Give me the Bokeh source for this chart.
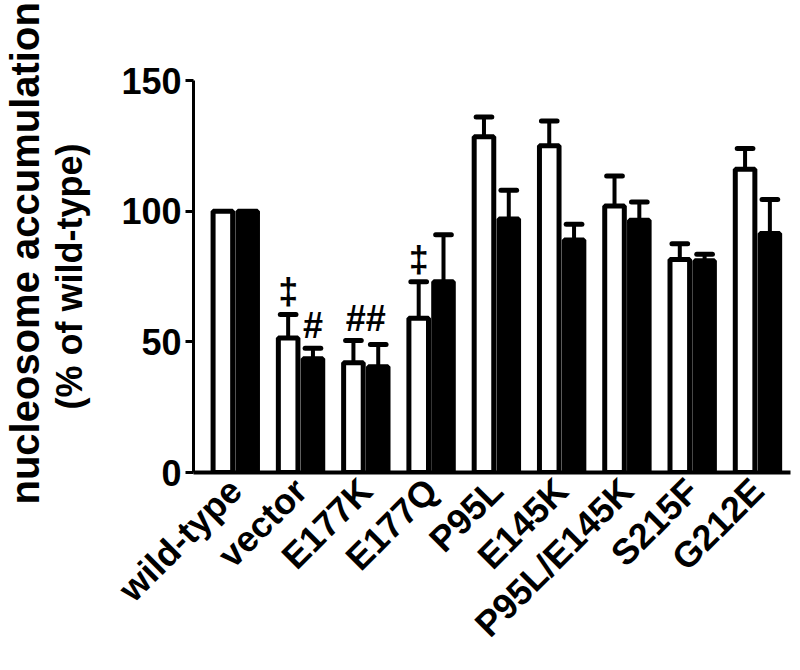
import numpy as np
from bokeh.plotting import figure
from bokeh.models import Range1d, FixedTicker, Title
from bokeh.core.properties import value
from bokeh.embed import file_html
from bokeh.resources import INLINE

# ---- data ----
categories = ["wild-type", "vector", "E177K", "E177Q", "P95L", "E145K",
              "P95L/E145K", "S215F", "G212E"]
white_mean = [100, 51.5, 42, 59, 128.5, 125, 102, 81.5, 116]
white_err = [0, 9, 8.5, 14, 7.5, 9.5, 11.5, 6, 8]
black_mean = [100, 43.5, 40.5, 73, 97, 89, 96.5, 81, 91.5]
black_err = [0, 4, 8.5, 18, 11, 6, 7, 2.5, 13]
y_ticks = [0, 50, 100, 150]
# significance marks: (category index, which bar, symbol)
marks_group = [1, 1, 2, 3]
marks_bar = ["white", "black", "both", "white"]
marks_text = ["\u2021", "#", "##", "\u2021"]

FONT = "Liberation Sans"
OFF = 0.19
BW = 0.30

p = figure(width=792, height=662, output_backend="svg", toolbar_location=None,
           x_range=Range1d(-0.64, 8.506), y_range=Range1d(0, 150),
           min_border_left=190, min_border_top=80, min_border_right=2,
           min_border_bottom=189)
p.outline_line_color = None
p.grid.grid_line_color = None
p.background_fill_color = "white"

xs = np.arange(len(categories))
xw = xs - OFF
xb = xs + OFF

p.vbar(x=xw, top=white_mean, width=BW, bottom=0, fill_color="white",
       line_color="black", line_width=5)
p.vbar(x=xb, top=black_mean, width=BW, bottom=0, fill_color="black",
       line_color="black", line_width=5)

def err_bars(xpos, mean, err):
    x = [xx for xx, e in zip(xpos, err) if e > 0]
    y0 = [m for m, e in zip(mean, err) if e > 0]
    y1 = [m + e for m, e in zip(mean, err) if e > 0]
    p.segment(x0=x, y0=y0, x1=x, y1=y1, line_color="black", line_width=4)
    p.segment(x0=[v - 0.12 for v in x], y0=y1, x1=[v + 0.12 for v in x], y1=y1,
              line_color="black", line_width=5, line_cap="round")

err_bars(xw, white_mean, white_err)
err_bars(xb, black_mean, black_err)

# significance symbols
mx, my = [], []
for g, b in zip(marks_group, marks_bar):
    tw = white_mean[g] + white_err[g]
    tb = black_mean[g] + black_err[g]
    if b == "white":
        mx.append(g - OFF); my.append(tw)
    elif b == "black":
        mx.append(g + OFF); my.append(tb)
    else:
        mx.append(g); my.append(max(tw, tb))
p.text(x=mx, y=my, text=marks_text, text_align="center", text_baseline="bottom",
       y_offset=-2, text_font=value(FONT), text_font_style="bold",
       text_font_size="36px", text_color="black")

# axes
ya = p.yaxis[0]
ya.ticker = FixedTicker(ticks=y_ticks)
ya.axis_line_width = 3
ya.major_tick_line_width = 3
ya.major_tick_out = 8
ya.major_tick_in = 0
ya.minor_tick_line_color = None
ya.major_label_standoff = 4
ya.major_label_text_font = FONT
ya.major_label_text_font_style = "bold"
ya.major_label_text_font_size = "36px"
ya.major_label_text_color = "black"
ya.axis_label = "(% of wild-type)"
ya.axis_label_text_font = FONT
ya.axis_label_text_font_style = "bold"
ya.axis_label_text_font_size = "36px"
ya.axis_label_text_color = "black"
ya.axis_label_standoff = 28

xa = p.xaxis[0]
xa.ticker = FixedTicker(ticks=list(range(len(categories))))
xa.major_label_overrides = {i: c for i, c in enumerate(categories)}
xa.major_label_orientation = np.pi / 4
xa.axis_line_width = 4
xa.major_tick_line_color = None
xa.minor_tick_line_color = None
xa.major_label_standoff = 6
xa.major_label_text_font = FONT
xa.major_label_text_font_style = "bold"
xa.major_label_text_font_size = "36px"
xa.major_label_text_color = "black"

# outer line of the y axis title
p.add_layout(Title(text="nucleosome accumulation", align="left", offset=-32,
                   text_font=FONT, text_font_style="bold", text_font_size="40px",
                   text_color="black", standoff=0), "left")

open("out.html", "w").write(file_html(p, INLINE))
